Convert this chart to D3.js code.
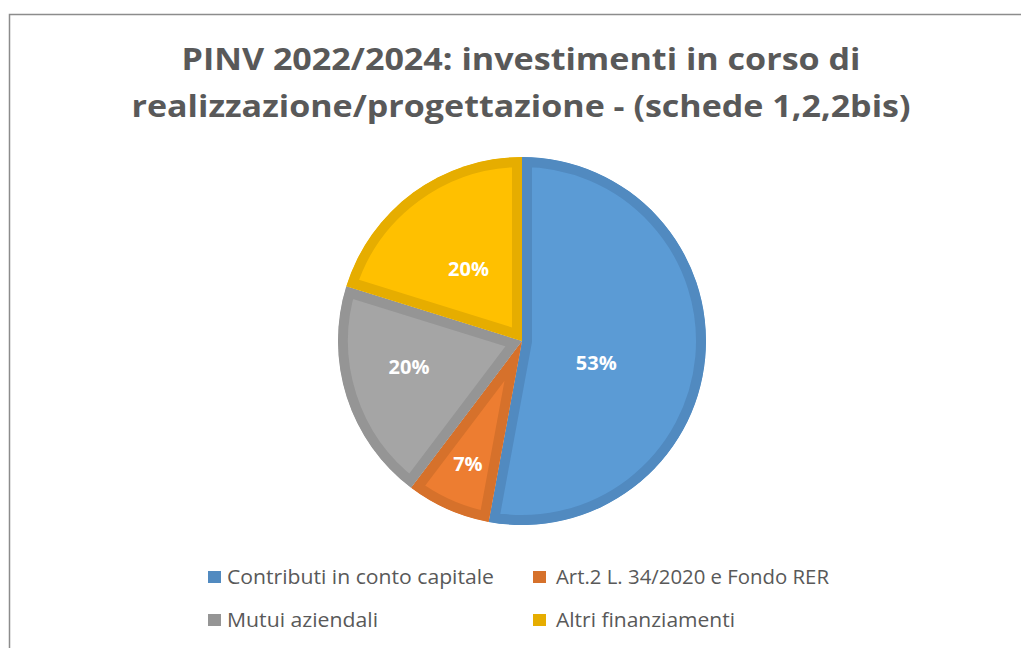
<!DOCTYPE html>
<html>
<head>
<meta charset="utf-8">
<script src="https://cdn.jsdelivr.net/npm/d3@7"></script>
<style>
  body { margin: 0; background: #fff; }
  text { font-family: "Open Sans", "Liberation Sans", sans-serif; }
</style>
</head>
<body>
<div class="chart"></div>
<script>
// Pie chart data
var categories = ["Contributi in conto capitale", "Art.2 L. 34/2020 e Fondo RER", "Mutui aziendali", "Altri finanziamenti"];
var values = [52.9, 7.4, 19.5, 20.2];
var valueLabels = ["53%", "7%", "20%", "20%"];
var titleLines = ["PINV 2022/2024: investimenti in corso di", "realizzazione/progettazione - (schede 1,2,2bis)"];

// colours (fill / slice border)
var fills = ["#5B9BD5", "#ED7D31", "#A5A5A5", "#FFC000"];
var borders = ["#518AC0", "#D6712B", "#959595", "#E6AD00"];
// label placement (Excel best fit): distance as fraction of radius, angle shift in degrees
var labelFrac = [0.42, 0.73, 0.63, 0.49];
var labelShift = [11, 0, 5, 0];

var svgWidth = 1021, svgHeight = 648;
var cx = 522, cy = 341, radius = 184;

var svg = d3.select(".chart")
  .append("svg")
  .attr("width", svgWidth)
  .attr("height", svgHeight);

// chart frame
svg.append("rect")
  .attr("x", 9.5)
  .attr("y", 14.5)
  .attr("width", 1030)
  .attr("height", 660)
  .attr("fill", "none")
  .attr("stroke", "#8c8c8c")
  .attr("stroke-width", 1.5);

// title
var titleWidths = [679, 779];
svg.selectAll(".title")
  .data(titleLines)
  .enter()
  .append("text")
  .attr("class", "title")
  .attr("x", 521)
  .attr("y", (d, i) => 70 + i * 47)
  .attr("text-anchor", "middle")
  .attr("font-size", "31px")
  .attr("font-weight", "bold")
  .attr("fill", "#595959")
  .attr("textLength", (d, i) => titleWidths[i])
  .attr("lengthAdjust", "spacingAndGlyphs")
  .text(d => d);

var pie = d3.pie().sort(null).value(d => d);
var arcs = pie(values);
var arc = d3.arc().innerRadius(0).outerRadius(radius);

var chartGroup = svg.append("g")
  .attr("transform", `translate(${cx}, ${cy})`);

var defs = svg.append("defs");
arcs.forEach(function(a, i) {
  defs.append("clipPath")
    .attr("id", "clip" + i)
    .append("path")
    .attr("d", arc(a));
});

// slices with an inner border like Excel
chartGroup.selectAll("path.slice")
  .data(arcs)
  .enter()
  .append("path")
  .attr("class", "slice")
  .attr("d", arc)
  .attr("fill", (d, i) => fills[i])
  .attr("stroke", (d, i) => borders[i])
  .attr("stroke-width", 20)
  .attr("stroke-linejoin", "miter")
  .attr("clip-path", (d, i) => `url(#clip${i})`);

// data labels
chartGroup.selectAll("text.lbl")
  .data(arcs)
  .enter()
  .append("text")
  .attr("class", "lbl")
  .attr("transform", function(d, i) {
    var mid = (d.startAngle + d.endAngle) / 2 + labelShift[i] * Math.PI / 180;
    var r = radius * labelFrac[i];
    return `translate(${Math.sin(mid) * r}, ${-Math.cos(mid) * r})`;
  })
  .attr("text-anchor", "middle")
  .attr("dy", "0.36em")
  .attr("font-size", "20px")
  .attr("font-weight", "bold")
  .attr("fill", "#ffffff")
  .text((d, i) => valueLabels[i]);

// legend
var legendX = [208, 533], legendY = [577, 620];
var legendW = [267, 273, 151, 179];
var legend = svg.selectAll(".legend")
  .data(categories)
  .enter()
  .append("g")
  .attr("class", "legend")
  .attr("transform", (d, i) => `translate(${legendX[i % 2]}, ${legendY[Math.floor(i / 2)]})`);

legend.append("rect")
  .attr("x", 0)
  .attr("y", -6)
  .attr("width", 13)
  .attr("height", 12)
  .attr("fill", (d, i) => borders[i]);

legend.append("text")
  .attr("x", (d, i) => i % 2 === 0 ? 19 : 23)
  .attr("dy", "0.36em")
  .attr("font-size", "20px")
  .attr("fill", "#595959")
  .attr("textLength", (d, i) => legendW[i])
  .attr("lengthAdjust", "spacingAndGlyphs")
  .text(d => d);
</script>
</body>
</html>
